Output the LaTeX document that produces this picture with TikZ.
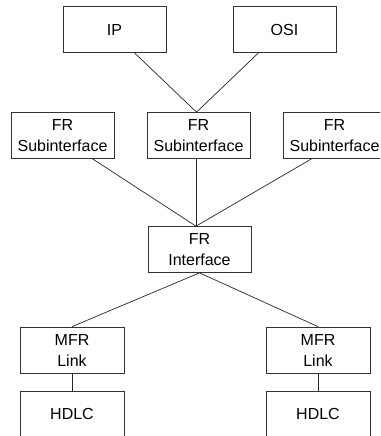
\documentclass[tikz,border=0pt]{standalone}
\usepackage{fontspec}
\setmainfont{Liberation Sans}
\begin{document}
\begin{tikzpicture}[x=1pt, y=-1pt,
  box/.style={draw=black!80, line width=0.7pt, minimum width=103pt, minimum height=46pt,
    align=center, inner sep=0pt, font=\fontsize{16}{21}\selectfont},
  link/.style={black!85, line width=0.7pt}]
% Clip to picture size
\clip (0,0) rectangle (380,436);
% Draw boxes
\node[box] (ip) at (114.5,29.5) {IP};
\node[box] (osi) at (284.5,29.5) {OSI};
\foreach \n/\x in {1/62.5, 2/198.5, 3/334.5}
    \node[box] (sub\n) at (\x,135.5) {FR\\Subinterface};
\node[box] (fr) at (199.5,249.5) {FR\\Interface};
\foreach \n/\x in {1/72, 2/318} {
    \node[box, minimum width=104pt] (mfr\n) at (\x,350) {MFR\\Link};
    \node[box, minimum width=104pt] (hdlc\n) at (\x,414) {HDLC};
}
% Meeting points of the connectors
\coordinate (subtop) at ([xshift=-2pt]sub2.north);
\coordinate (frtop) at ([xshift=-3.5pt]fr.north);
% Draw connectors
\draw[link] ([xshift=20pt]ip.south) -- (subtop);
\draw[link] ([xshift=-26pt]osi.south) -- (subtop);
\draw[link] ([xshift=30pt]sub1.south) -- (frtop);
\draw[link] ([xshift=-2.5pt]sub2.south) -- (frtop);
\draw[link] ([xshift=-23pt]sub3.south) -- (frtop);
\foreach \n in {1,2} {
    \draw[link] (fr.south) -- (mfr\n.north);
    \draw[link] (mfr\n) -- (hdlc\n);
}
\end{tikzpicture}
\end{document}
